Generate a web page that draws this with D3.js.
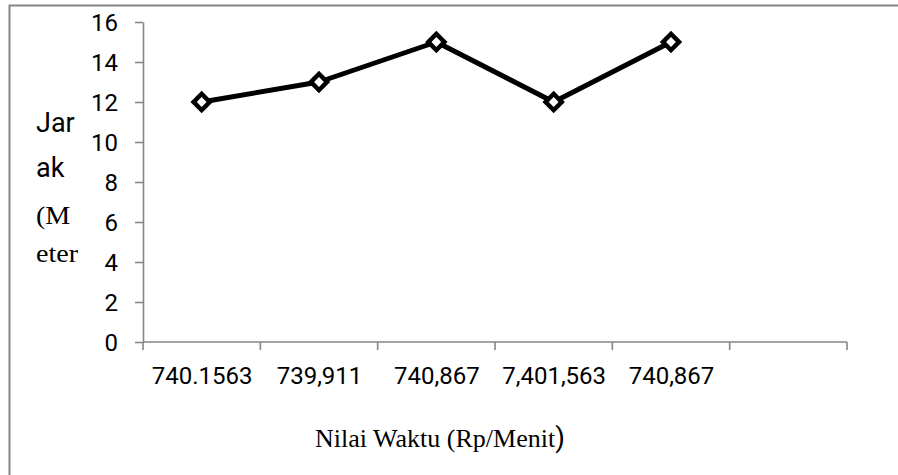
<!DOCTYPE html>
<html>
<head>
<meta charset="utf-8">
<script src="https://cdn.jsdelivr.net/npm/d3@7"></script>
<style>
  html, body { margin: 0; padding: 0; background: #fff; }
  svg { display: block; }
</style>
</head>
<body>
<svg id="chart" width="898" height="475"></svg>
<script>
// Distance travelled per time-value category
const categories = ["740.1563", "739,911", "740,867", "7,401,563", "740,867", ""];
const jarak = [12, 13, 15, 12, 15];
const yTicks = [0, 2, 4, 6, 8, 10, 12, 14, 16];

const svg = d3.select("#chart");
const W = 898, H = 475;
const margin = { left: 143, right: W - 847, top: 22, bottom: H - 342 };
const axisColor = "#868686";
const sans = "Roboto, 'Liberation Sans', Arial, sans-serif";
const serif = "'Liberation Serif', 'Times New Roman', serif";

// outer frame (runs off the right and bottom edges)
svg.append("rect")
  .attr("x", 9.5).attr("y", 5.5)
  .attr("width", 1000).attr("height", 1000)
  .attr("fill", "none")
  .attr("stroke", axisColor)
  .attr("stroke-width", 2);

const idx = categories.map((_, i) => i);
const x = d3.scaleBand()
  .domain(idx)
  .range([margin.left, W - margin.right])
  .paddingInner(0).paddingOuter(0);

const y = d3.scaleLinear()
  .domain([0, 16])
  .range([H - margin.bottom, margin.top]);

// Y axis
const yAxis = svg.append("g")
  .attr("transform", `translate(${margin.left},0)`)
  .call(d3.axisLeft(y).tickValues(yTicks).tickSize(8).tickSizeOuter(0).tickPadding(17));
yAxis.select(".domain").attr("stroke", axisColor).attr("stroke-width", 1.6);
yAxis.selectAll(".tick line").attr("stroke", axisColor).attr("stroke-width", 1.6);
yAxis.selectAll(".tick text")
  .attr("fill", "#000")
  .style("font-family", sans)
  .style("font-size", "24px")
  .attr("dy", "0.34em");

// X axis: boundary ticks between categories
const xAxisG = svg.append("g")
  .attr("transform", `translate(0,${y(0)})`);
xAxisG.append("line")
  .attr("x1", x.range()[0]).attr("x2", x.range()[1])
  .attr("stroke", axisColor).attr("stroke-width", 1.6);
const bounds = idx.map(i => x(i)).concat([x.range()[1]]);
xAxisG.selectAll("line.bt")
  .data(bounds)
  .join("line")
  .attr("class", "bt")
  .attr("x1", d => d).attr("x2", d => d)
  .attr("y1", 0).attr("y2", 8)
  .attr("stroke", axisColor).attr("stroke-width", 1.6);
xAxisG.selectAll("text.lbl")
  .data(idx)
  .join("text")
  .attr("class", "lbl")
  .attr("x", i => x(i) + x.bandwidth() / 2 + 0.5)
  .attr("y", 42.3)
  .attr("text-anchor", "middle")
  .style("font-family", sans)
  .style("font-size", "24px")
  .attr("fill", "#000")
  .text(i => categories[i]);

// series line
const cx = i => x(i) + x.bandwidth() / 2;
const line = d3.line()
  .x((d, i) => cx(i))
  .y(d => y(d));

svg.append("path")
  .datum(jarak)
  .attr("d", line)
  .attr("fill", "none")
  .attr("stroke", "#000")
  .attr("stroke-width", 5)
  .attr("stroke-linejoin", "round");

// diamond markers
const diamond = d3.symbol().type(d3.symbolSquare).size(130);
svg.selectAll("path.mk")
  .data(jarak)
  .join("path")
  .attr("class", "mk")
  .attr("d", diamond)
  .attr("transform", (d, i) => `translate(${cx(i)},${y(d)}) rotate(45)`)
  .attr("fill", "#fff")
  .attr("stroke", "#000")
  .attr("stroke-width", 4.5);

// y axis title, broken over four lines
const yTitle = [
  { t: "Jar", font: sans, size: 27, yb: 131.7, sx: 1 },
  { t: "ak", font: sans, size: 27, yb: 176.7, sx: 1 },
  { t: "(M", font: serif, size: 26, yb: 224, sx: 1.08 },
  { t: "eter", font: serif, size: 26, yb: 261.7, sx: 1.08 }
];
svg.selectAll("text.yt")
  .data(yTitle)
  .join("text")
  .attr("class", "yt")
  .attr("transform", d => `translate(36,${d.yb}) scale(${d.sx},1)`)
  .style("font-family", d => d.font)
  .style("font-size", d => d.size + "px")
  .attr("fill", "#000")
  .text(d => d.t);

// x axis title
const xt = svg.append("text")
  .attr("x", 440)
  .attr("y", 446.7)
  .attr("text-anchor", "middle")
  .style("font-family", serif)
  .style("font-size", "26px")
  .attr("fill", "#000");
xt.append("tspan").text("Nilai Waktu (Rp/Menit");
xt.append("tspan").style("font-family", sans).style("font-size", "28px").text(")");
</script>
</body>
</html>
